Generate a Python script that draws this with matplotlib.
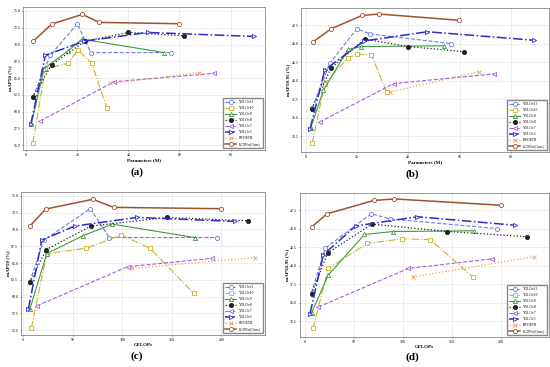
import matplotlib
matplotlib.use("Agg")
import matplotlib.pyplot as plt

# Fonte serifada parecida com Times
plt.rcParams['font.family'] = ['Liberation Serif', 'DejaVu Serif']

# ==========================================
# DADOS
# ==========================================
yolov11_params = [2.6, 9.5, 20.0, 25.3, 56.6]
yolov11_gflops = [7, 21, 68, 87, 196]
yolov11_map50 = [62.2, 68.4, 73.1, 68.8, 68.8]
yolov11_map5095 = [36.3, 42.35, 47.0, 46.3, 45.0]

yolov10_params = [2.6, 7.5, 16.4, 20.2, 25.7, 31.6]
yolov10_gflops = [8.5, 24, 64, 99, 128, 172]
yolov10_map50 = [55.3, 66.4, 67.2, 69.2, 67.2, 60.5]
yolov10_map5095 = [31.5, 39.6, 43.0, 43.6, 43.5, 38.4]

yolov9_params = [2.0, 7.0, 16.5, 21.8, 54.0]
yolov9_gflops = [7, 24, 61, 90, 173]
yolov9_map50 = [58.1, 66.4, 69.1, 70.8, 68.8]
yolov9_map5095 = [33.6, 38.7, 44.2, 44.6, 44.7]

yolov8_params = [2.5, 10.0, 23.0, 40.0, 61.8]
yolov8_gflops = [7, 23.5, 68.5, 145.5, 227]
yolov8_map50 = [62.1, 67.0, 70.5, 71.8, 71.3]
yolov8_map5095 = [36.2, 41.7, 45.6, 44.6, 43.9]

yolov7_params = [5.5, 34.4, 73.5]
yolov7_gflops = [14, 105.5, 190.5]
yolov7_map50 = [58.6, 64.45, 65.7]
yolov7_map5095 = [34.4, 39.6, 40.9]

yolov5_params = [1.8, 7.5, 22.8, 47.5, 89.1]
yolov5_gflops = [5.5, 19, 52, 115, 214]
yolov5_map50 = [58.1, 68.4, 70.5, 71.8, 71.2]
yolov5_map5095 = [33.5, 41.45, 45.35, 46.6, 45.45]

rtdetr_params = [33.0, 67.6]
rtdetr_gflops = [110, 233.5]
rtdetr_map50 = [64.2, 65.8]
rtdetr_map5095 = [38.45, 41.2]

lcdnet_params = [2.8, 10.0, 22.0, 28.5, 59.8]
lcdnet_gflops = [7, 23, 70.5, 91.5, 200]
lcdnet_map50 = [70.5, 73.05, 74.5, 73.3, 73.1]
lcdnet_map5095 = [45.2, 47.0, 48.8, 49.0, 48.15]

# nome, x params, x gflops, map50, map50-95, cor, estilo, marcador, espessura
modelos = [
    ('YOLOv11', yolov11_params, yolov11_gflops, yolov11_map50, yolov11_map5095, '#6a7fe0', '--', 'o', 0.8),
    ('YOLOv10', yolov10_params, yolov10_gflops, yolov10_map50, yolov10_map5095, '#c9b227', '-.', 's', 0.8),
    ('YOLOv9', yolov9_params, yolov9_gflops, yolov9_map50, yolov9_map5095, '#3f9a3f', '-', '^', 0.8),
    ('YOLOv8', yolov8_params, yolov8_gflops, yolov8_map50, yolov8_map5095, '#222222', ':', 'o', 0.9),
    ('YOLOv7', yolov7_params, yolov7_gflops, yolov7_map50, yolov7_map5095, '#a45ee5', '--', '<', 0.8),
    ('YOLOv5', yolov5_params, yolov5_gflops, yolov5_map50, yolov5_map5095, '#2a2ad0', '-.', '>', 1.1),
    ('RT-DETR', rtdetr_params, rtdetr_gflops, rtdetr_map50, rtdetr_map5095, '#f0a050', ':', 'x', 0.9),
    ('LCDNet(Ours)', lcdnet_params, lcdnet_gflops, lcdnet_map50, lcdnet_map5095, '#a0522d', '-', 'o', 1.1),
]

fig = plt.figure(figsize=(5.5, 3.67), dpi=100)

# posições dos 4 painéis [left, bottom, width, height] + posição da letra (px)
paineis = [
    ([0.042, 0.591, 0.440, 0.390], 1, 3, 'Parameters (M)', 'mAP50 (%)', (-1.2, 93.5), (54.25, 75.6), [0, 20, 40, 60, 80], '(a)', (137, 172)),
    ([0.548, 0.586, 0.450, 0.392], 1, 4, 'Parameters (M)', 'mAP50-95 (%)', (-1.6, 94.8), (30.35, 49.8), [0, 20, 40, 60, 80], '(b)', (412, 174)),
    ([0.038, 0.087, 0.444, 0.390], 2, 3, 'GFLOPs', 'mAP50 (%)', (-2, 244), (54.25, 75.6), [0, 50, 100, 150, 200], '(c)', (137, 356)),
    ([0.545, 0.082, 0.453, 0.392], 2, 4, 'GFLOPs', 'mAP50-95 (%)', (-5, 249), (30.35, 49.8), [0, 50, 100, 150, 200], '(d)', (412, 357)),
]

for pos, ix, iy, xlabel, ylabel, xlim, ylim, xticks, letra, pos_letra in paineis:
    ax = fig.add_axes(pos)
    for m in modelos:
        nome, cor, estilo, marc, lw = m[0], m[5], m[6], m[7], m[8]
        face = cor if nome == 'YOLOv8' else 'white'
        ax.plot(m[ix], m[iy], linestyle=estilo, color=cor, linewidth=lw,
                marker=marc, markersize=3, markerfacecolor=face,
                markeredgewidth=0.6, label=nome)
    ax.set_xlim(*xlim)
    ax.set_ylim(*ylim)
    ax.set_xticks(xticks)
    if iy == 3:
        ax.set_yticks([55.0, 57.5, 60.0, 62.5, 65.0, 67.5, 70.0, 72.5, 75.0])
    else:
        ax.set_yticks([32.5, 35.0, 37.5, 40.0, 42.5, 45.0, 47.5])
    ax.yaxis.set_major_formatter(matplotlib.ticker.FormatStrFormatter('%.1f'))
    ax.tick_params(labelsize=2.8, length=1, width=0.4, pad=1)
    ax.grid(True, color='#e0e0e0', linewidth=0.4)
    ax.set_axisbelow(True)
    for s in ax.spines.values():
        s.set_color('#888888')
        s.set_linewidth(0.6)
    ax.set_xlabel(xlabel, fontsize=3.6, fontweight='bold', labelpad=1)
    ax.set_ylabel(ylabel, fontsize=3.6, fontweight='bold', labelpad=1)
    ax.legend(loc='lower right', fontsize=2.6, frameon=True, fancybox=False,
              edgecolor='#888888', framealpha=1, handlelength=3.2,
              borderpad=0.6, labelspacing=0.55)
    # legenda (a), (b)... abaixo do painel, em pixels da figura
    fig.text(pos_letra[0] / 550, 1 - pos_letra[1] / 367, letra, ha='center', va='center',
             fontsize=8, fontweight='bold')

fig.savefig('out.png', dpi=100)
